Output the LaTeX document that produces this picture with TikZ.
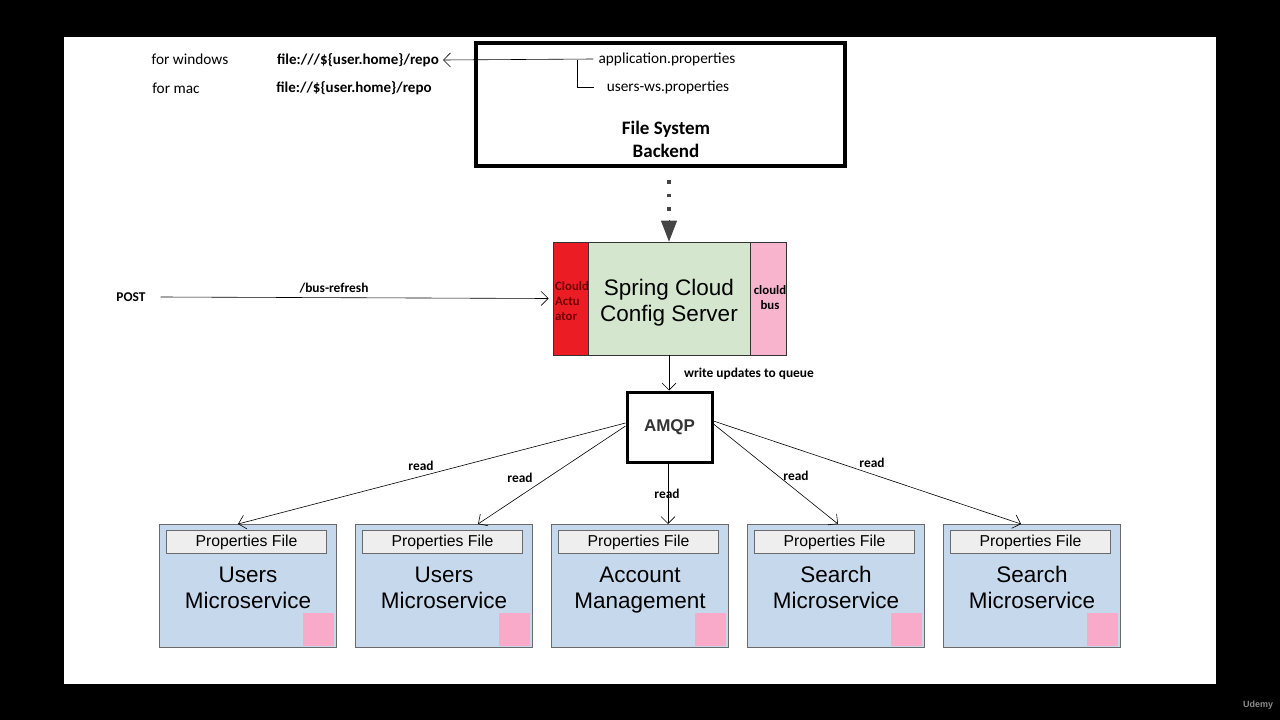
\documentclass[tikz,border=0pt]{standalone}
\usepackage{fontspec}
\setmainfont{Carlito}
\newfontfamily\arial{Liberation Sans}
\usetikzlibrary{arrows.meta,positioning,calc}
\definecolor{actred}{HTML}{EC1C24}
\definecolor{actText}{HTML}{6E0000}
\definecolor{srvgreen}{HTML}{D4E6CD}
\definecolor{buspink}{HTML}{F8B4CD}
\definecolor{sqpink}{HTML}{F8AAC8}
\definecolor{msblue}{HTML}{C6D9EC}
\definecolor{msborder}{HTML}{6A6A6A}
\definecolor{pfgray}{HTML}{EEEEEE}
\definecolor{dotgray}{HTML}{444444}
\begin{document}
\begin{tikzpicture}[x=1pt,y=-1pt,
  txt/.style={inner sep=0pt, font=\fontsize{15.3}{17}\selectfont},
  btxt/.style={inner sep=0pt, font=\fontsize{15}{17}\selectfont\bfseries},
  lbl/.style={inner sep=0pt, font=\fontsize{13.4}{15}\selectfont\bfseries},
  barb/.style={-{Straight Barb[length=7pt,width=14pt]}, line width=0.6pt},
  msbox/.style={draw=msborder, fill=msblue, line width=1pt, minimum width=177pt, minimum height=123pt, inner sep=0pt},
  pfbox/.style={draw=msborder, fill=pfgray, line width=0.8pt, minimum width=160pt, minimum height=23pt, inner sep=0pt, text depth=2pt, font=\arial\fontsize{15.8}{17}\selectfont},
  mstitle/.style={inner sep=0pt, align=center, font=\arial\fontsize{22.5}{26}\selectfont},
  pinksq/.style={fill=sqpink, minimum width=31pt, minimum height=33pt, inner sep=0pt}
]
\useasboundingbox (0,0) rectangle (1280,720);
\fill[black] (0,0) rectangle (1280,720);
\fill[white] (64,37) rectangle (1216,684);

% File system backend
\node[draw, line width=3.6pt, minimum width=369pt, minimum height=123pt, inner sep=0pt] (fs) at (660.5,104.5) {};
\node[txt] (app) at (667,59) {application.properties};
\node[txt] (usr) at (668,87) {users-ws.properties};
\node[inner sep=0pt, align=center, font=\fontsize{19}{23}\selectfont\bfseries] (fst) at (666,139.5) {File System\\Backend};

\node[txt] (win) at (190,59) {for windows};
\node[txt] (mac) at (176,88) {for mac};
\node[btxt] (winurl) at (358,60) {file:///\$\{user.home\}/repo};
\node[btxt] (macurl) at (354,88) {file://\$\{user.home\}/repo};

\coordinate (br) at (577,60);
\draw[barb] ([xshift=-5pt]app.west) -- ([xshift=4pt]winurl.east);
\draw[line width=0.6pt] (br) |- ([xshift=-13pt]usr.west);

% Spring cloud config server
\node[draw=black!80, fill=actred, line width=0.8pt, minimum width=35pt, minimum height=113pt, inner sep=0pt] (act) at (570.5,298.5) {};
\node[draw=black!80, fill=srvgreen, line width=0.8pt, minimum width=162pt, minimum height=113pt, inner sep=0pt] (scs) at (669,298.5) {};
\node[draw=black!80, fill=buspink, line width=0.8pt, minimum width=36pt, minimum height=113pt, inner sep=0pt] (bus) at (768,298.5) {};
\node[mstitle] (scst) at (669,303) {Spring Cloud\vphantom{g}\\Config Server};
\node[inner sep=0pt, align=left, anchor=west, text=actText, font=\fontsize{12.8}{15}\selectfont\bfseries] (actt) at (555,301) {Clould\\Actu\\ator};
\node[inner sep=0pt, align=center, font=\fontsize{12.8}{15}\selectfont\bfseries] (bust) at (770,297.5) {clould\\bus};

% dotted arrow
\coordinate (dtop) at (669,180);
\coordinate (dend) at (669,211);
\coordinate (dmid) at (669,220);
\draw[dotgray, line width=3.5pt, dash pattern=on 3.5pt off 10pt] (dtop) -- (dend);
\draw[dotgray, -{Triangle[length=21pt,width=16pt]}, line width=1pt] (dmid) -- (scs.north -| dmid);

% POST
\node[lbl] (post) at (131,297) {POST};
\node[lbl] (busref) at (334,288) {/bus-refresh};
\draw[barb] ([xshift=15pt]post.east) -- ([xshift=-4pt]act.west);

% AMQP
\node[draw, line width=3pt, minimum width=85pt, minimum height=70pt, inner sep=0pt, font=\arial\fontsize{17}{19}\selectfont\bfseries, text=black!80] (amqp) at (669.5,427) {AMQP};
\draw[barb] (scs.south) -- (amqp.north -| scs.south);
\node[lbl] (wq) at (749,374) {write updates to queue};

% microservices
\foreach \i/\cx/\ta/\tb in {1/248/Users/Microservice, 2/444/Users/Microservice, 3/640/Account/Management, 4/836/Search/Microservice, 5/1032/Search/Microservice}{
  \node[msbox] (m\i) at (\cx,586) {};
  \node[pfbox, below=6pt of m\i.north, xshift=-1.5pt] (pf\i) {Properties File};
  \node[mstitle] (mt\i) at ([yshift=-4pt]m\i.center) {\ta\vphantom{Ag}\\\tb\vphantom{Ag}};
  \node[pinksq, anchor=south east] (sq\i) at ([xshift=-3pt,yshift=2pt]m\i.south east) {};
}

\draw[barb] ([yshift=4pt]amqp.west) -- ([xshift=-10pt]m1.north);
\draw[barb] ([yshift=1pt]amqp.west) -- ([xshift=34pt]m2.north);
\draw[barb] ([xshift=-1.5pt]amqp.south) -- ([xshift=28pt]m3.north);
\draw[barb] ([yshift=3pt]amqp.east) -- ([xshift=2pt]m4.north);
\draw[barb] ([yshift=6pt]amqp.east) -- ([xshift=-11pt]m5.north);
\node[lbl] (r1) at (421,466) {read};
\node[lbl] (r2) at (520,478) {read};
\node[lbl] (r3) at (667,494) {read};
\node[lbl] (r4) at (796,476) {read};
\node[lbl] (r5) at (872,463) {read};

% watermark
\node[inner sep=0pt, text=black!45, font=\arial\fontsize{9}{10}\selectfont\bfseries] (udemy) at (1258,705) {Udemy};
\end{tikzpicture}
\end{document}
